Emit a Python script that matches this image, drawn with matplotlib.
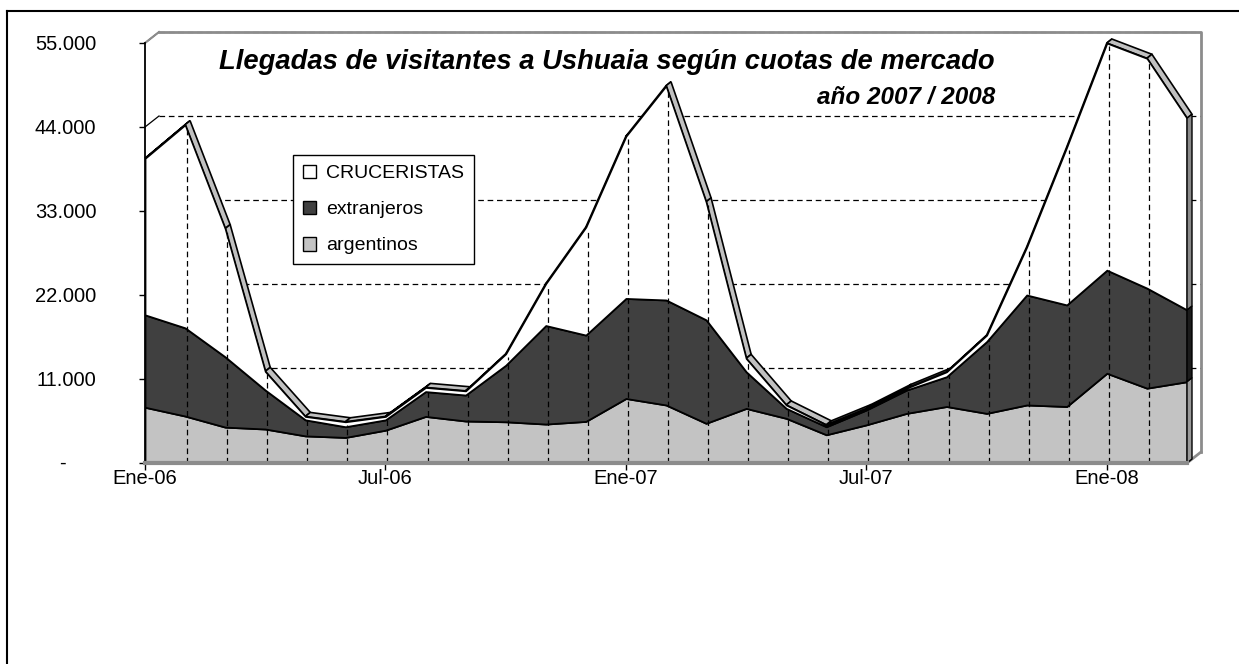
import matplotlib
matplotlib.use('Agg')
import matplotlib.pyplot as plt
from matplotlib.patches import Patch, Polygon
from matplotlib.lines import Line2D
import numpy as np

plt.rcParams['font.family'] = ['Liberation Sans', 'DejaVu Sans']

# monthly arrivals, Ene-06 .. Mar-08
meses = ['Ene-06', 'Feb-06', 'Mar-06', 'Abr-06', 'May-06', 'Jun-06', 'Jul-06', 'Ago-06', 'Sep-06',
         'Oct-06', 'Nov-06', 'Dic-06', 'Ene-07', 'Feb-07', 'Mar-07', 'Abr-07', 'May-07', 'Jun-07',
         'Jul-07', 'Ago-07', 'Sep-07', 'Oct-07', 'Nov-07', 'Dic-07', 'Ene-08', 'Feb-08', 'Mar-08']
argentinos = [7300, 6150, 4700, 4450, 3550, 3350, 4300, 6100, 5500, 5400, 5100, 5450, 8450, 7600,
              5200, 7150, 5850, 3700, 5000, 6500, 7400, 6500, 7600, 7400, 11750, 9800, 10650]
extranjeros = [12100, 11550, 9200, 5100, 2100, 1400, 1350, 3250, 3400, 7400, 12900, 11300, 13100,
               13750, 13550, 4800, 1300, 1050, 1950, 3050, 3900, 9400, 14400, 13300, 13500, 13100, 9400]
cruceristas = [20500, 26600, 16800, 2450, 450, 650, 450, 550, 550, 1500, 5500, 14150, 21250, 28050,
               15450, 1750, 450, 250, 200, 250, 650, 850, 6300, 20700, 29750, 30100, 25100]

yticks = [0, 11000, 22000, 33000, 44000, 55000]
ytick_labels = ['', '11.000', '22.000', '33.000', '44.000', '55.000']
xtick_pos = [0, 6, 12, 18, 24]

x = np.arange(len(meses))
arg = np.array(argentinos)
ext_top = arg + np.array(extranjeros)
total = ext_top + np.array(cruceristas)

W, H = 1239, 664
fig = plt.figure(figsize=(W / 100, H / 100), dpi=100)
ax = fig.add_axes([145 / W, 1 - 463 / H, (1187 - 145) / W, 420 / H])
ax.set_xlim(0, 26)
ax.set_ylim(0, 55000)

# pixel -> data units
DX = 26 / (1187 - 145)
DY = 55000 / 420
sdx, sdy = 5 * DX, 4 * DY      # depth of the series slab
wdx, wdy = 14 * DX, 11 * DY    # depth of the back wall

wall = '#8c8c8c'
# back wall grid
for v in yticks[1:]:
    ax.plot([wdx, 26 + wdx], [v + wdy, v + wdy], color='black', lw=0.9,
            ls=(0, (4.5, 3)), zorder=1, clip_on=False)
    ax.plot([0, wdx], [v, v + wdy], color='black', lw=0.9, zorder=1, clip_on=False)
ax.plot([wdx, 26 + wdx, 26 + wdx], [55000 + wdy, 55000 + wdy, wdy], color=wall, lw=2,
        zorder=1.2, clip_on=False)
ax.plot([0, wdx], [55000, 55000 + wdy], color=wall, lw=1.5, zorder=1.2, clip_on=False)
ax.plot([26, 26 + wdx], [0, wdy], color=wall, lw=2, zorder=1.2, clip_on=False)

# top face of the slab
for i in range(len(x) - 1):
    quad = [(x[i], total[i]), (x[i + 1], total[i + 1]),
            (x[i + 1] + sdx, total[i + 1] + sdy), (x[i] + sdx, total[i] + sdy)]
    ax.add_patch(Polygon(quad, closed=True, facecolor='#c0c0c0', edgecolor='black',
                         lw=1.2, zorder=2, clip_on=False))

# front faces
ax.fill_between(x, 0, arg, facecolor='#c3c3c3', edgecolor='black', lw=1.3, zorder=3)
ax.fill_between(x, arg, ext_top, facecolor='#404040', edgecolor='black', lw=1.3, zorder=3)
ax.fill_between(x, ext_top, total, facecolor='white', edgecolor='black', lw=1.3, zorder=3)

# right side of the slab
xe = x[-1]
for lo, hi, c in [(0, arg[-1], '#9a9a9a'), (arg[-1], ext_top[-1], '#1c1c1c'),
                  (ext_top[-1], total[-1], '#8a8a8a')]:
    side = [(xe, lo), (xe, hi), (xe + sdx, hi + sdy), (xe + sdx, lo + sdy)]
    ax.add_patch(Polygon(side, closed=True, facecolor=c, edgecolor='black', lw=1,
                         zorder=3.5, clip_on=False))

# drop lines
for i in range(1, len(x)):
    ax.plot([x[i] + 2 * DX, x[i] + 2 * DX], [0, total[i] - 3 * DY], color='black', lw=0.9,
            ls=(0, (4.5, 3)), zorder=4)

for s in ['top', 'right']:
    ax.spines[s].set_visible(False)
ax.spines['left'].set_color('black')
ax.spines['left'].set_linewidth(1.3)
ax.spines['left'].set_zorder(5)
ax.spines['bottom'].set_color(wall)
ax.spines['bottom'].set_linewidth(3)
ax.spines['bottom'].set_zorder(5)

ax.set_yticks(yticks)
ax.set_yticklabels(ytick_labels)
ax.set_xticks(xtick_pos)
ax.set_xticklabels([meses[i] for i in xtick_pos])
ax.tick_params(axis='y', length=4, width=1, direction='out', pad=31, labelsize=14.5)
ax.tick_params(axis='x', length=5, width=1, direction='out', pad=-1, labelsize=14.5, color='black')
fig.text(62 / W, 1 - 463 / H, '-', ha='center', va='center', fontsize=14.5)

fig.text(995 / W, 1 - 62 / H, 'Llegadas de visitantes a Ushuaia según cuotas de mercado',
         ha='right', va='center', fontsize=19.7, fontweight='bold', fontstyle='italic')
fig.text(995 / W, 1 - 97 / H, 'año 2007 / 2008', ha='right', va='center', fontsize=17.5,
         fontweight='bold', fontstyle='italic')

handles = [Patch(facecolor='white', edgecolor='black', label='CRUCERISTAS'),
           Patch(facecolor='#404040', edgecolor='black', label='extranjeros'),
           Patch(facecolor='#c3c3c3', edgecolor='black', label='argentinos')]
leg = ax.legend(handles=handles, loc='upper left', bbox_to_anchor=(293 / W, 1 - 155 / H),
                bbox_transform=fig.transFigure, fontsize=14, handlelength=0.7, handleheight=0.7,
                handletextpad=0.5, labelspacing=0.95, borderpad=0.5, borderaxespad=0,
                fancybox=False, framealpha=1, edgecolor='black')
leg.get_frame().set_linewidth(1)
leg.set_zorder(6)

# outer frame
fig.add_artist(Line2D([7 / W, 7 / W], [0, 1 - 11 / H], transform=fig.transFigure, color='black', lw=1.5))
fig.add_artist(Line2D([7 / W, 1], [1 - 11 / H, 1 - 11 / H], transform=fig.transFigure, color='black', lw=1.5))

fig.savefig('out.png', dpi=100)
